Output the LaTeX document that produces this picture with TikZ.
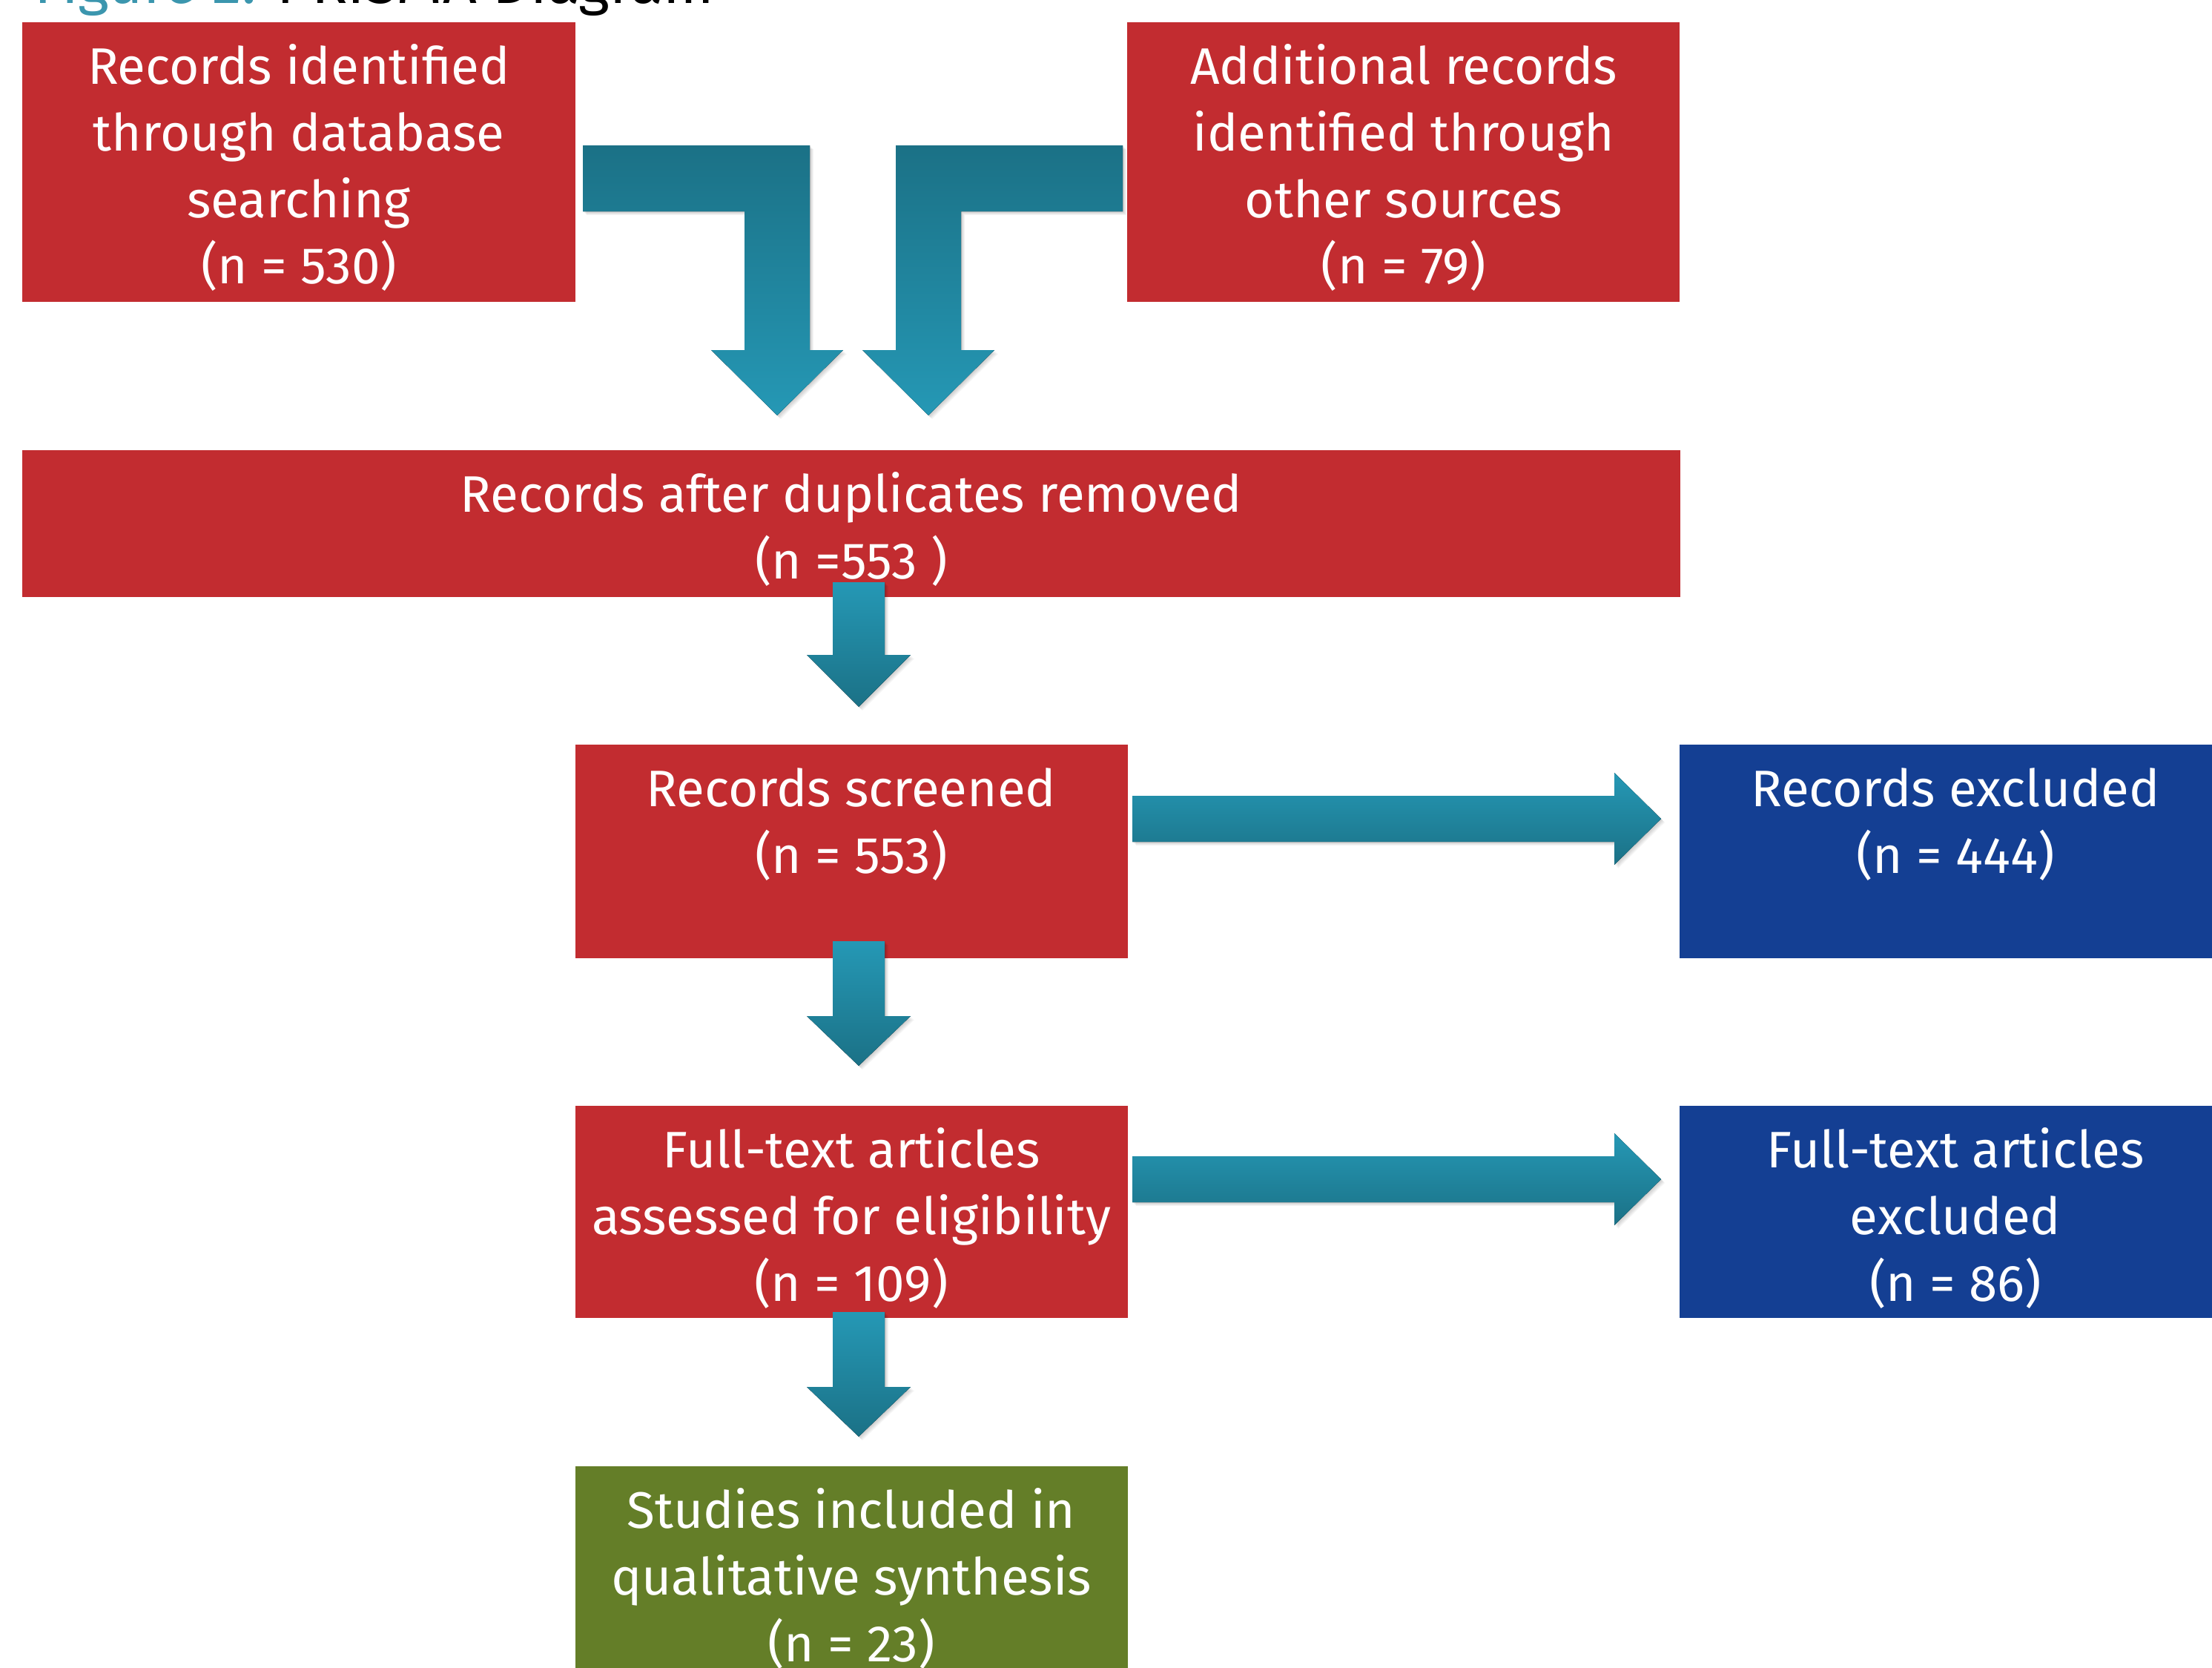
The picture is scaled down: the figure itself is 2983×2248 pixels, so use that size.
\documentclass[tikz,border=0pt]{standalone}
\usepackage{fontspec}
\setmainfont{Fira Sans}
\definecolor{boxred}{HTML}{C22C30}
\definecolor{boxblue}{HTML}{143F93}
\definecolor{boxgreen}{HTML}{647E28}
\definecolor{titleteal}{HTML}{3B96AE}
\definecolor{tealdark}{HTML}{1B7186}
\definecolor{teallight}{HTML}{2598B5}
\newcommand{\fst}{\rule{0pt}{20pt}}
\newcommand{\blockarrow}[3]{%
  \foreach \s in {1,...,5} {\fill[black,opacity=0.04,shift={(\s,\s)}] #3;}
  \fill[top color=#1,bottom color=#2] #3;}
\begin{document}
\begin{tikzpicture}[x=0.25pt,y=-0.25pt,
  box/.style={draw=none,inner sep=0pt,outer sep=0pt,anchor=north west},
  lbl/.style={text=white,align=center,inner sep=0pt,anchor=north,
    font=\fontsize{17.3pt}{22.4pt}\selectfont}]
\useasboundingbox (0,0) rectangle (2983,2248);
\clip (0,0) rectangle (2983,2248);
\fill[white] (0,0) rectangle (2983,2248);

% title (mostly cut off at top)
\node[anchor=base west,inner sep=0pt,font=\fontsize{20pt}{24pt}\selectfont] (title) at (46,5)
  {\textcolor{titleteal}{Figure 2:} PRISMA Diagram};

% boxes
\node[box,fill=boxred,minimum width=186.5pt,minimum height=94.25pt] (b1) at (30,30) {};
\node[box,fill=boxred,minimum width=186.25pt,minimum height=94.25pt] (b2) at (1520,30) {};
\node[box,fill=boxred,minimum width=559pt,minimum height=49.5pt] (b3) at (30,607) {};
\node[box,fill=boxred,minimum width=186.25pt,minimum height=72pt] (b4) at (776,1004) {};
\node[box,fill=boxblue,minimum width=190pt,minimum height=72pt] (b5) at (2265,1004) {};
\node[box,fill=boxred,minimum width=186.25pt,minimum height=71.5pt] (b6) at (776,1491) {};
\node[box,fill=boxblue,minimum width=190pt,minimum height=71.5pt] (b7) at (2265,1491) {};
\node[box,fill=boxgreen,minimum width=186.25pt,minimum height=72.5pt] (b8) at (776,1977) {};

% labels
\node[lbl] (t1) at (403,33) {\fst Records identified\\through database\\searching\\(n = 530)};
\node[lbl] (t2) at (1893,33) {\fst Additional records\\identified through\\other sources\\(n = 79)};
\node[lbl] (t3) at (1148,610) {\fst Records after duplicates removed\\(n =553 )};
\node[lbl] (t4) at (1148,1007) {\fst Records screened\\(n = 553)};
\node[lbl] (t5) at (2637,1007) {\fst Records excluded\\(n = 444)};
\node[lbl] (t6) at (1148,1494) {\fst Full-text articles\\assessed for eligibility\\(n = 109)};
\node[lbl] (t7) at (2637,1494) {\fst Full-text articles\\excluded\\(n = 86)};
\node[lbl] (t8) at (1148,1980) {\fst Studies included in\\qualitative synthesis\\(n = 23)};

% L-shaped arrows from top boxes
\blockarrow{tealdark}{teallight}{(786,196) -- (1092,196) -- (1092,472) -- (1137,472) -- (1048,560) -- (959,472) -- (1004,472) -- (1004,285) -- (786,285) -- cycle}
\blockarrow{tealdark}{teallight}{(1514,196) -- (1208,196) -- (1208,472) -- (1163,472) -- (1252,560) -- (1341,472) -- (1296,472) -- (1296,285) -- (1514,285) -- cycle}

% down arrows
\blockarrow{teallight}{tealdark}{(1123,785) -- (1193,785) -- (1193,883) -- (1228,883) -- (1158,953) -- (1088,883) -- (1123,883) -- cycle}
\blockarrow{teallight}{tealdark}{(1123,1269) -- (1193,1269) -- (1193,1370) -- (1228,1370) -- (1158,1437) -- (1088,1370) -- (1123,1370) -- cycle}
\blockarrow{teallight}{tealdark}{(1123,1769) -- (1193,1769) -- (1193,1870) -- (1228,1870) -- (1158,1937) -- (1088,1870) -- (1123,1870) -- cycle}

% right arrows
\blockarrow{teallight}{tealdark}{(1527,1073) -- (2177,1073) -- (2177,1042) -- (2240,1104) -- (2177,1166) -- (2177,1135) -- (1527,1135) -- cycle}
\blockarrow{teallight}{tealdark}{(1527,1559) -- (2177,1559) -- (2177,1528) -- (2240,1590) -- (2177,1652) -- (2177,1621) -- (1527,1621) -- cycle}
\end{tikzpicture}
\end{document}
